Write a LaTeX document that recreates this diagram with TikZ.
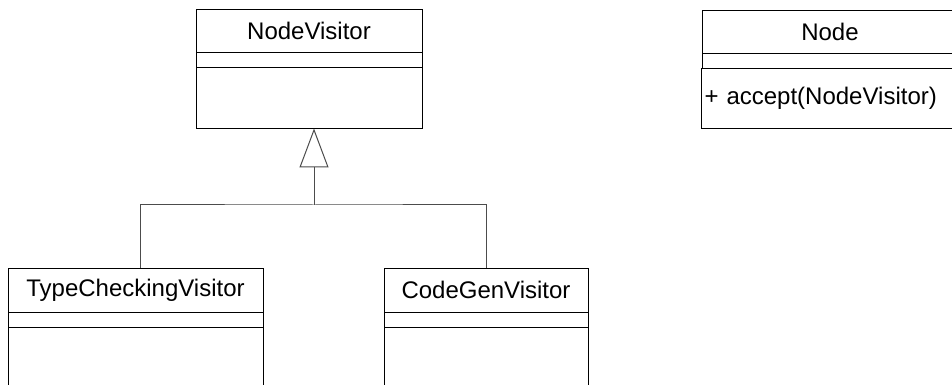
\documentclass[tikz,border=0pt]{standalone}
\usepackage{fontspec}
\setmainfont{Liberation Sans}
\usetikzlibrary{arrows.meta,positioning}

\begin{document}
\begin{tikzpicture}[x=1pt,y=1pt,
  head/.style={rectangle,draw,line width=0.9pt,outer sep=0pt,minimum width=#1,
    minimum height=43pt,inner sep=0pt,font=\fontsize{24}{29}\selectfont},
  attr/.style={rectangle,draw,line width=0.9pt,outer sep=0pt,minimum width=#1,
    minimum height=15pt,inner sep=0pt},
  ops/.style={rectangle,draw,line width=0.9pt,outer sep=0pt,minimum width=#1,
    minimum height=61pt,inner sep=3pt,align=left,
    font=\fontsize{24}{29}\selectfont},
  link/.style={draw=black!70,line width=1pt},
  gen/.style={link,-{Triangle[open,length=39pt,width=29pt,fill=white]}}
]
\useasboundingbox (0,0) rectangle (952,385);
\clip (0,0) rectangle (952,385);

% Visitor base class
\node[head=226pt] (nv-head) at (309,354) {NodeVisitor};
\node[attr=226pt,below=0pt of nv-head] (nv-attr) {};
\node[ops=226pt,below=0pt of nv-attr] (nv-ops) {};

% Concrete visitors
\node[head=255pt,minimum height=44pt] (tc-head) at (135.5,95) {TypeCheckingVisitor};
\node[attr=255pt,below=0pt of tc-head] (tc-attr) {};
\node[ops=255pt,minimum height=90pt,below=0pt of tc-attr] (tc-ops) {};

\node[head=204pt,minimum height=44pt] (cg-head) at (486,95) {CodeGenVisitor};
\node[attr=204pt,below=0pt of cg-head] (cg-attr) {};
\node[ops=204pt,minimum height=90pt,below=0pt of cg-attr] (cg-ops) {};

% Element class
\node[head=256pt] (nd-head) at (830,353.5) {Node};
\node[attr=256pt,below=0pt of nd-head] (nd-attr) {};
\node[ops=256pt,minimum height=60pt,text width=251pt,below=0pt of nd-attr]
  (nd-ops) {+ accept(NodeVisitor)};

% Generalization
\coordinate (fork) at (314,180);
\draw[gen] (fork) -- ([xshift=5pt]nv-ops.south);
\draw[link] ([xshift=4.5pt]tc-head.north) |- (fork) -| (cg-head.north);
\end{tikzpicture}
\end{document}
